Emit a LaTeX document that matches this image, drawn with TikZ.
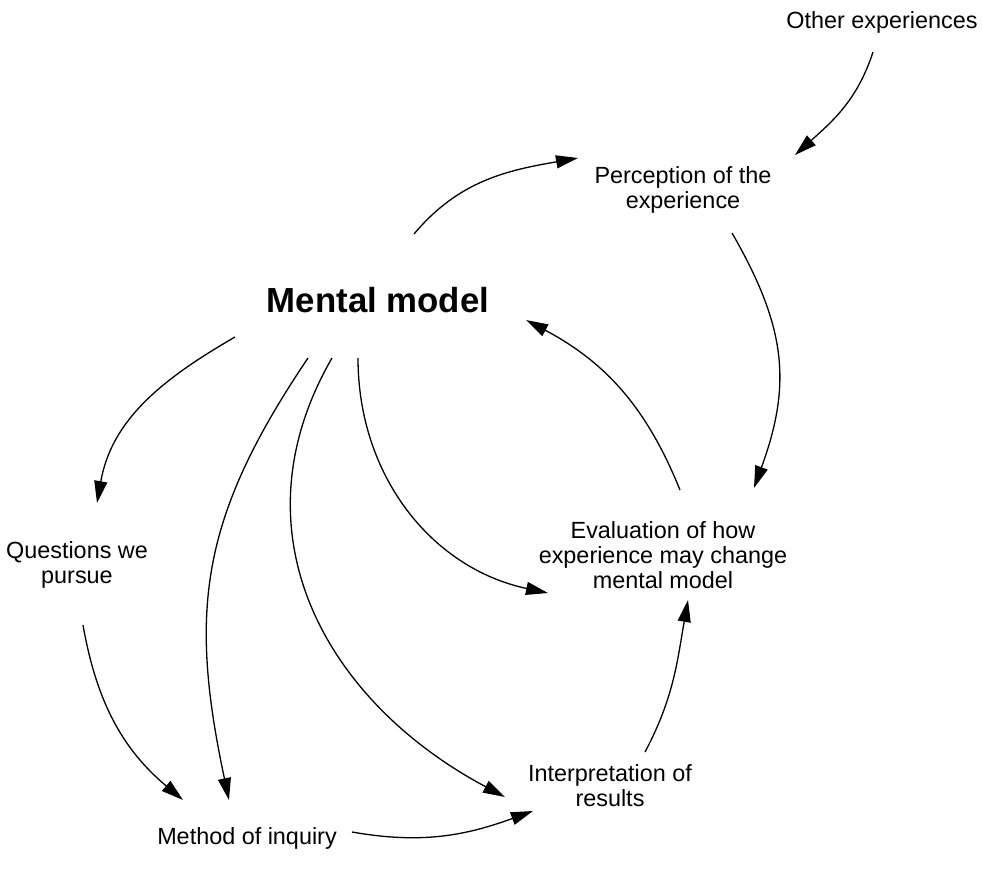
\documentclass[tikz,border=0pt]{standalone}
\usepackage{fontspec}
\setmainfont{Liberation Sans}
\usetikzlibrary{arrows.meta}

\tikzset{
	stage/.style={align=center, inner sep=0pt, font=\fontsize{11.7}{12.6}\selectfont},
	core/.style={inner sep=0pt, font=\fontsize{17.4}{20}\selectfont\bfseries},
	flow/.style={-{Triangle[length=11pt,width=6.5pt]}, line width=0.65pt},
}

\begin{document}
\begin{tikzpicture}[x=0.5pt, y=-0.5pt]
		\useasboundingbox (0,0) rectangle (982,875);

			\node[stage] (other) at (882,22) {Other experiences};
			\node[stage] (perc) at (683,190) {Perception of the\\experience};
			\node[core] (mm) at (378,300) {Mental model};
			\node[stage] (ques) at (77,565) {Questions we\\pursue};
			\node[stage] (eval) at (663,555) {Evaluation of how\\experience may change\\mental model};
			\node[stage] (interp) at (610,786) {Interpretation of\\results};
			\node[stage] (meth) at (247,838) {Method of inquiry};

			\draw[flow] ([shift={(-9,30)}]other.center) to[out=-108, in=42] ([shift={(112,-35)}]perc.center);
			\draw[flow] ([shift={(36,-66)}]mm.center) to[out=50, in=190] ([shift={(-105,-32)}]perc.center);
			\draw[flow] ([shift={(49,43)}]perc.center) to[out=-60, in=70, looseness=1.1] ([shift={(91,-67)}]eval.center);
			\draw[flow] ([shift={(17,-65)}]eval.center) to[out=112, in=-28] ([shift={(148,20)}]mm.center);
			\draw[flow] ([shift={(-143,37)}]mm.center) to[out=-150, in=80] ([shift={(20,-62)}]ques.center);
			\draw[flow] ([shift={(-70,58)}]mm.center) to[out=-124, in=102, looseness=1.1] ([shift={(-18,-38)}]meth.center);
			\draw[flow] ([shift={(-46,58)}]mm.center) to[out=-120, in=152, looseness=1.1] ([shift={(-105,11)}]interp.center);
			\draw[flow] ([shift={(-20,58)}]mm.center) to[out=-90, in=168] ([shift={(-115,38)}]eval.center);
			\draw[flow] ([shift={(6,60)}]ques.center) to[out=-80, in=140] ([shift={(-64,-38)}]meth.center);
			\draw[flow] ([shift={(105,-6)}]meth.center) to[out=-10, in=200] ([shift={(-77,25)}]interp.center);
			\draw[flow] ([shift={(35,-34)}]interp.center) to[out=62, in=-100] ([shift={(25,45)}]eval.center);
\end{tikzpicture}
\end{document}
